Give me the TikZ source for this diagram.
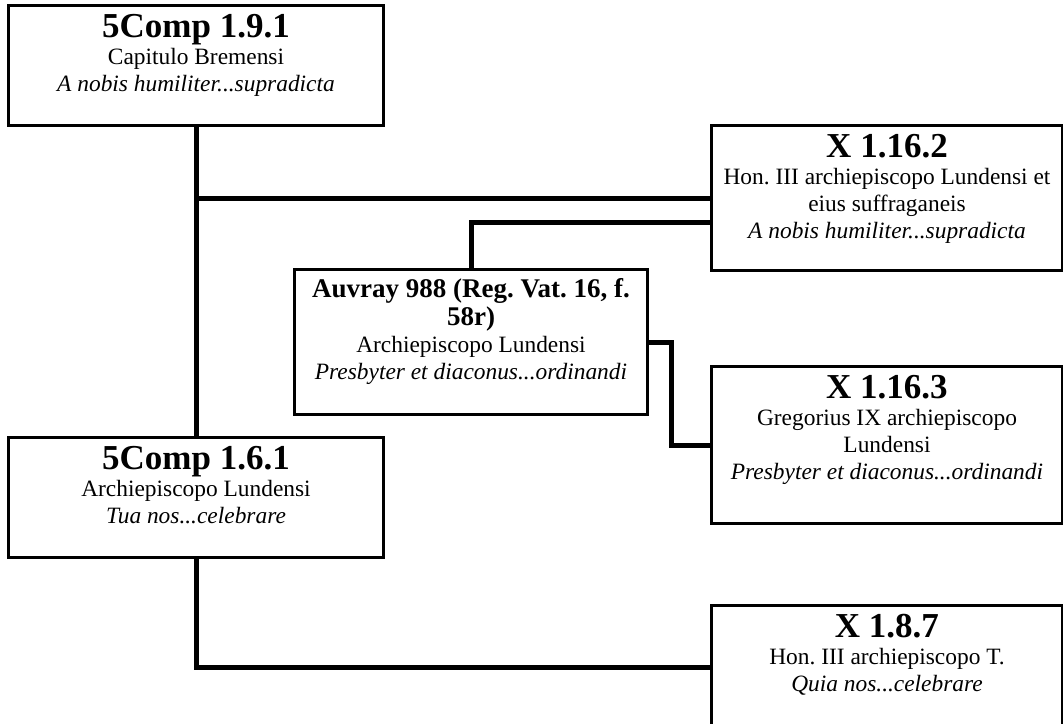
\documentclass[tikz,border=0pt]{standalone}
\usepackage{fontspec}
\setmainfont{Liberation Serif}
\usetikzlibrary{positioning}
\frenchspacing

\newcommand{\boxtitle}[1]{{\fontsize{35}{27}\selectfont\bfseries #1}}
\newcommand{\smalltitle}[1]{{\fontsize{27}{28}\selectfont\bfseries #1}}

\begin{document}
\begin{tikzpicture}[x=1pt,y=1pt,
    box/.style={draw=black, line width=2pt, fill=white, inner sep=0pt},
    boxtext/.style={align=center, inner sep=0pt, font=\fontsize{23.4}{27}\selectfont},
    link/.style={draw=black, line width=5pt}]

  % page frame
  \useasboundingbox (0,0) rectangle (1063,-723);

  % boxes (centres and sizes taken from the page)
  \node[box, minimum width=374, minimum height=119] (a) at (196,-65.5) {};
  \node[box, minimum width=350, minimum height=144] (b) at (887,-198) {};
  \node[box, minimum width=352, minimum height=144] (c) at (471,-342) {};
  \node[box, minimum width=350, minimum height=156] (d) at (887,-445) {};
  \node[box, minimum width=374, minimum height=119] (e) at (196,-497.5) {};
  \node[box, minimum width=350, minimum height=122] (f) at (887,-667) {};

  % connectors
  \draw[link] (a.south) -- (e.north);
  \draw[link] (a.south |- b.west) -- (b.west);
  \draw[link] (c.north) |- ([yshift=-24pt]b.west);
  \draw[link] (c.east) -- ++(23,0) |- (d.west);
  \draw[link] (e.south) |- (f.west);

  % redraw box borders on top of the line ends
  \foreach \n in {a,b,c,d,e,f}
    \draw[line width=2pt] (\n.north west) rectangle (\n.south east);

  % texts
  \node[boxtext, below=9.5pt of a.north] (a-t) {\boxtitle{5Comp 1.9.1}\\
    Capitulo Bremensi\\ \textit{A nobis humiliter...supradicta}};
  \node[boxtext, below=9.5pt of b.north] (b-t) {\boxtitle{X 1.16.2}\\
    Hon. III archiepiscopo Lundensi et\\ eius suffraganeis\\
    \textit{A nobis humiliter...supradicta}};
  \node[boxtext, below=9pt of c.north] (c-t) {\smalltitle{Auvray 988 (Reg. Vat. 16, f.}\\[1pt]
    \smalltitle{58r)}\\ Archiepiscopo Lundensi\\
    \textit{Presbyter et diaconus...ordinandi}};
  \node[boxtext, below=9.5pt of d.north] (d-t) {\boxtitle{X 1.16.3}\\
    Gregorius IX archiepiscopo\\ Lundensi\\
    \textit{Presbyter et diaconus...ordinandi}};
  \node[boxtext, below=9.5pt of e.north] (e-t) {\boxtitle{5Comp 1.6.1}\\
    Archiepiscopo Lundensi\\ \textit{Tua nos...celebrare}};
  \node[boxtext, below=9.5pt of f.north] (f-t) {\boxtitle{X 1.8.7}\\
    Hon. III archiepiscopo T.\\ \textit{Quia nos...celebrare}};
\end{tikzpicture}
\end{document}
